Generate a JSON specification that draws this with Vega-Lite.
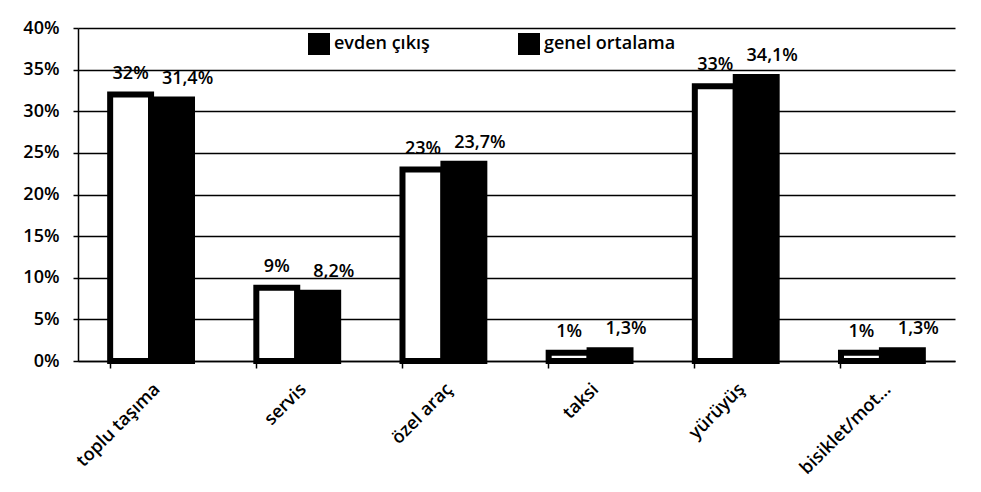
{
  "$schema": "https://vega.github.io/schema/vega-lite/v6.json",
  "autosize": {"type": "none"},
  "width": 877,
  "height": 333,
  "padding": {"left": 78, "top": 28, "right": 26, "bottom": 131},
  "background": "white",
  "config": {
    "font": "Open Sans",
    "view": {"stroke": null},
    "axis": {"labelFont": "Open Sans", "labelFontSize": 18, "labelFontWeight": 600, "labelColor": "black"}
  },
  "data": {
    "values": [
      {"kategori": "toplu taşıma", "seri": "evden çıkış", "deger": 0.32, "etiket": "32%"},
      {"kategori": "toplu taşıma", "seri": "genel ortalama", "deger": 0.314, "etiket": "31,4%"},
      {"kategori": "servis", "seri": "evden çıkış", "deger": 0.088, "etiket": "9%"},
      {"kategori": "servis", "seri": "genel ortalama", "deger": 0.082, "etiket": "8,2%"},
      {"kategori": "özel araç", "seri": "evden çıkış", "deger": 0.23, "etiket": "23%"},
      {"kategori": "özel araç", "seri": "genel ortalama", "deger": 0.237, "etiket": "23,7%"},
      {"kategori": "taksi", "seri": "evden çıkış", "deger": 0.01, "etiket": "1%"},
      {"kategori": "taksi", "seri": "genel ortalama", "deger": 0.013, "etiket": "1,3%"},
      {"kategori": "yürüyüş", "seri": "evden çıkış", "deger": 0.33, "etiket": "33%"},
      {"kategori": "yürüyüş", "seri": "genel ortalama", "deger": 0.341, "etiket": "34,1%"},
      {"kategori": "bisiklet/mot...", "seri": "evden çıkış", "deger": 0.01, "etiket": "1%"},
      {"kategori": "bisiklet/mot...", "seri": "genel ortalama", "deger": 0.013, "etiket": "1,3%"}
    ]
  },
  "encoding": {
    "x": {
      "field": "kategori", "type": "nominal", "sort": null,
      "scale": {"paddingInner": 0.44, "paddingOuter": 0.22},
      "axis": {
        "title": null, "labelAngle": -45, "labelAlign": "right", "labelBaseline": "top",
        "domainColor": "black", "domainWidth": 1.5, "tickColor": "black", "tickWidth": 1.5,
        "tickSize": 7, "bandPosition": 0, "labelPadding": 12, "grid": false
      }
    },
    "xOffset": {"field": "seri", "type": "nominal", "scale": {"paddingInner": 0, "paddingOuter": 0}},
    "y": {
      "field": "deger", "type": "quantitative",
      "scale": {"domain": [0, 0.4], "nice": false},
      "axis": {
        "title": null, "format": ".0%", "values": [0, 0.05, 0.1, 0.15, 0.2, 0.25, 0.3, 0.35, 0.4],
        "grid": true, "gridColor": "black", "gridWidth": 1.5, "gridOpacity": 1,
        "domainColor": "black", "domainWidth": 1.5, "tickColor": "black", "tickWidth": 1.5,
        "tickSize": 5, "labelPadding": 14
      }
    }
  },
  "layer": [
    {
      "mark": {"type": "bar", "stroke": "black", "strokeWidth": 6},
      "encoding": {
        "fill": {
          "field": "seri", "type": "nominal",
          "scale": {"domain": ["evden çıkış", "genel ortalama"], "range": ["white", "black"]},
          "legend": {
            "title": null, "orient": "none", "legendX": 230, "legendY": 5, "direction": "horizontal",
            "columns": 2, "columnPadding": 70, "symbolType": "square", "symbolSize": 100,
            "symbolStrokeColor": "black", "symbolStrokeWidth": 12, "labelFontSize": 18,
            "labelFontWeight": 600, "labelFont": "Open Sans", "labelColor": "black", "labelOffset": 4
          }
        }
      }
    },
    {
      "transform": [{"filter": "datum.seri === 'evden çıkış'"}],
      "mark": {"type": "text", "baseline": "alphabetic", "dy": -16, "fontSize": 18, "fontWeight": 600, "color": "black"},
      "encoding": {"text": {"field": "etiket"}}
    },
    {
      "transform": [{"filter": "datum.seri === 'genel ortalama'"}],
      "mark": {"type": "text", "baseline": "alphabetic", "dy": -16, "dx": 16, "fontSize": 18, "fontWeight": 600, "color": "black"},
      "encoding": {"text": {"field": "etiket"}}
    }
  ]
}
